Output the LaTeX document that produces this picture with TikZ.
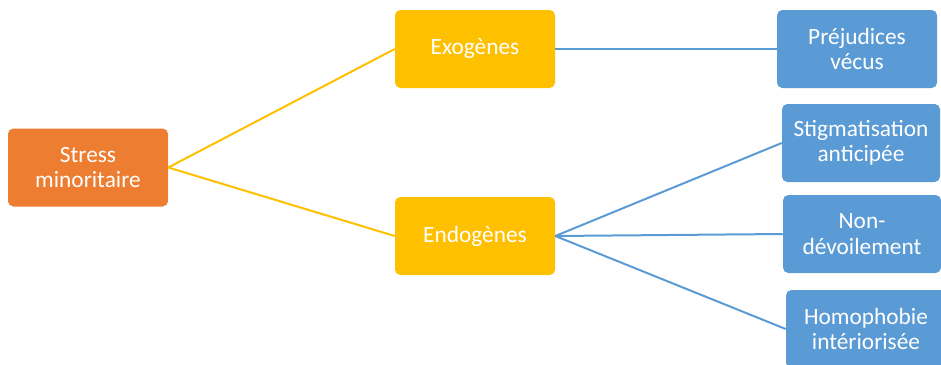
\documentclass[tikz,border=0pt]{standalone}
\usepackage{fontspec}
\setmainfont{Carlito}
\definecolor{stressorange}{HTML}{ED7D31}
\definecolor{gold}{HTML}{FFC000}
\definecolor{skyblue}{HTML}{5B9BD5}

\begin{document}
\begin{tikzpicture}[x=0.75pt,y=-0.75pt,
    box/.style={rounded corners=4pt,text=white,align=center,inner sep=0pt,
        minimum width=120pt,minimum height=58.5pt,font=\fontsize{17.5}{19}\selectfont},
    rootbox/.style={box,fill=stressorange},
    levelbox/.style={box,fill=gold},
    leafbox/.style={box,fill=skyblue},
    yellowline/.style={gold,line width=1.5pt},
    blueline/.style={skyblue,line width=1.5pt}]
    \useasboundingbox (0,0) rectangle (941,364);
    \node [rootbox] (stress) at (88,167.5) {Stress\\minoritaire};
    \node [levelbox] (exo) at (475,49) {Exogènes};
    \node [levelbox] (endo) at (475,236) {Endogènes};
    \node [leafbox] (prej) at (857,49) {Préjudices\\vécus};
    \node [leafbox,minimum width=118.5pt] (stig) at (861,143) {Stigmatisation\\anticipée};
    \node [leafbox,minimum width=118.5pt] (non) at (862,234) {Non-\\dévoilement};
    \node [leafbox] (homo) at (866,329) {Homophobie\\intériorisée};
    \foreach \n in {exo,endo} {
        \draw [yellowline] (stress.east) -- (\n.west);
    }
    \draw [blueline] (exo.east) -- (prej.west);
    \foreach \n in {stig,non,homo} {
        \draw [blueline] (endo.east) -- (\n.west);
    }
\end{tikzpicture}
\end{document}
